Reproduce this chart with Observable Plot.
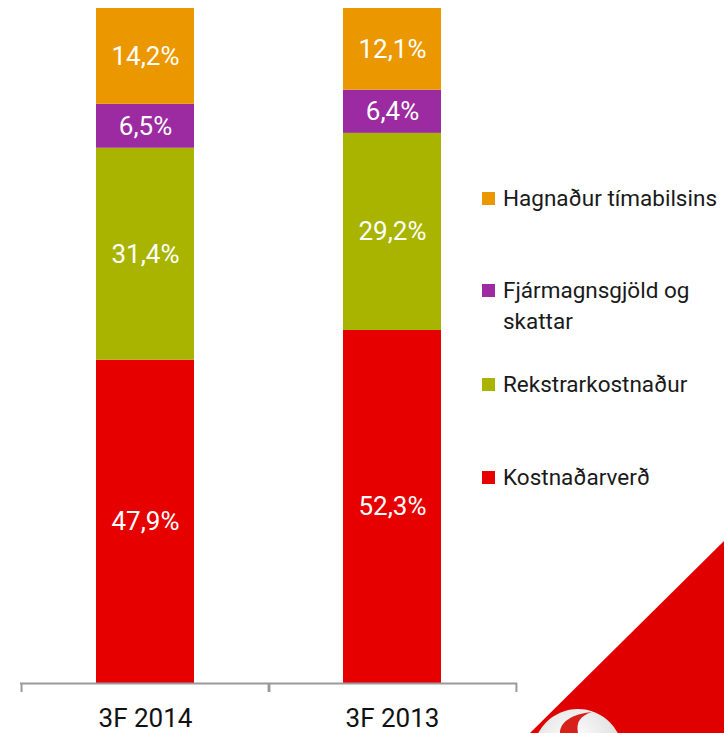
<!DOCTYPE html>
<html>
<head>
<meta charset="utf-8">
<script src="https://cdn.jsdelivr.net/npm/d3@7"></script>
<script src="https://cdn.jsdelivr.net/npm/@observablehq/plot@0.6"></script>
<style>
  html, body { margin: 0; padding: 0; background: #fff; }
  #wrap { position: relative; width: 724px; height: 733px; overflow: hidden; font-family: Roboto, "Noto Sans", sans-serif; }
  #chart { position: absolute; left: 0; top: 0; }
  .leg { position: absolute; left: 482px; font-size: 22.5px; line-height: 31px; color: #1a1a1a; white-space: nowrap; }
  .leg .sw { position: absolute; left: 0; top: 9px; width: 13px; height: 13px; }
  .leg .tx { position: absolute; left: 21px; top: 0; }
  #deco { position: absolute; left: 0; top: 0; }
</style>
</head>
<body>
<div id="wrap">
  <div id="chart"></div>
  <svg id="deco" width="724" height="733"></svg>
  <div id="legend"></div>
</div>
<script>
const categories = ["3F 2014", "3F 2013"];
const series = ["Kostnaðarverð", "Rekstrarkostnaður", "Fjármagnsgjöld og skattar", "Hagnaður tímabilsins"];
const values2014 = [47.9, 31.4, 6.5, 14.2];
const values2013 = [52.3, 29.2, 6.4, 12.1];
const colors = ["#E60000", "#A8B400", "#9C2AA0", "#EB9700"];
const legendOrder = ["Hagnaður tímabilsins", "Fjármagnsgjöld og<br>skattar", "Rekstrarkostnaður", "Kostnaðarverð"];
const legendColors = ["#EB9700", "#9C2AA0", "#A8B400", "#E60000"];

const data = [];
[values2014, values2013].forEach((vals, i) => {
  vals.forEach((v, j) => data.push({cat: categories[i], series: series[j], value: v}));
});

const W = 724, H = 733, ml = 20, mr = 207, mt = 8, mb = 50;
const pIn = 0.605, pOut = 0.305;
const step = (W - ml - mr) / (categories.length - pIn + 2 * pOut);
const fmt = v => v.toFixed(1).replace(".", ",") + "%";

const chart = Plot.plot({
  width: W, height: H,
  marginTop: mt, marginBottom: mb, marginLeft: ml, marginRight: mr,
  style: {fontFamily: "Roboto, 'Noto Sans', sans-serif", background: "transparent"},
  x: {domain: categories, paddingInner: pIn, paddingOuter: pOut, label: null},
  y: {domain: [0, 100], axis: null},
  color: {domain: series, range: colors},
  marks: [
    Plot.barY(data, {x: "cat", y: "value", fill: "series"}),
    Plot.text(data, Plot.stackY({x: "cat", y: "value", text: d => fmt(d.value), fill: "white", fontSize: 26})),
    Plot.ruleY([0], {stroke: "#9a9a9a", strokeWidth: 2}),
    Plot.axisX({tickSize: 9, tickFormat: () => "", stroke: "#9a9a9a", strokeWidth: 2, dx: -step / 2}),
    Plot.axisX({tickSize: 9, tickFormat: () => "", stroke: "#9a9a9a", strokeWidth: 2, dx: step / 2}),
    Plot.axisX({tickSize: 0, tickPadding: 25, fontSize: 26, fill: "#111"})
  ]
});
document.getElementById("chart").appendChild(chart);

// Legend
const legTops = [183, 275, 369, 462];
const legend = document.getElementById("legend");
legendOrder.forEach((name, i) => {
  const d = document.createElement("div");
  d.className = "leg";
  d.style.top = legTops[i] + "px";
  d.innerHTML = `<span class="sw" style="background:${legendColors[i]}"></span><span class="tx">${name}</span>`;
  legend.appendChild(d);
});

// Decoration (corner graphic)
const deco = d3.select("#deco");
const defs = deco.append("defs");
const g = defs.append("radialGradient").attr("id", "ball").attr("cx", "45%").attr("cy", "35%").attr("r", "65%");
g.append("stop").attr("offset", "0%").attr("stop-color", "#ffffff");
g.append("stop").attr("offset", "70%").attr("stop-color", "#e4e4e4");
g.append("stop").attr("offset", "100%").attr("stop-color", "#b8b8b8");
deco.append("polygon").attr("points", "724,541 724,733 530,733").attr("fill", "#E00000");
deco.append("circle").attr("cx", 578).attr("cy", 754).attr("r", 45).attr("fill", "url(#ball)");
deco.append("path").attr("d", "M560,733 C560,722 572,714 592,712 C580,716 576,722 578,733 Z").attr("fill", "#d8201a");
</script>
</body>
</html>
